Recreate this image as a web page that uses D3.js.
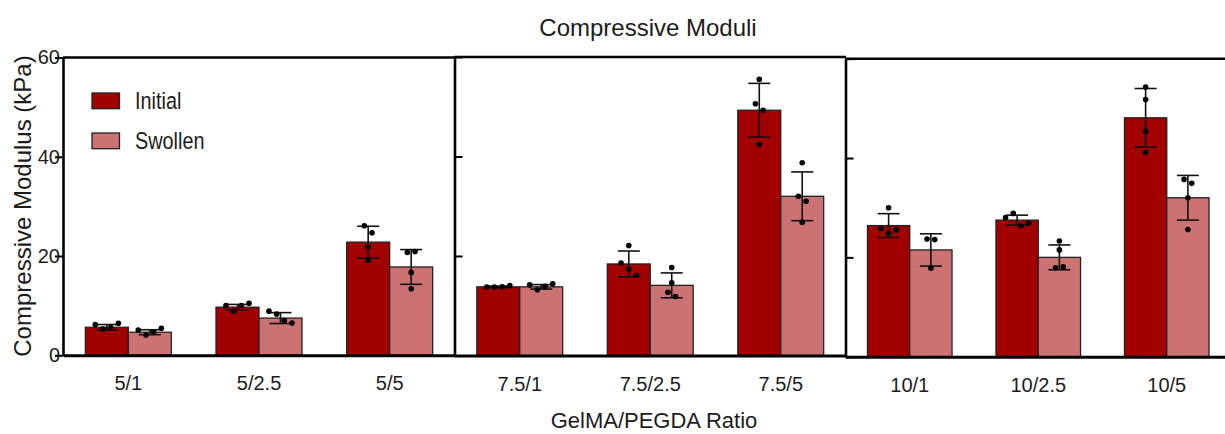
<!DOCTYPE html>
<html>
<head>
<meta charset="utf-8">
<script src="https://cdn.jsdelivr.net/npm/d3@7"></script>
<style>
    body { margin: 0; background: #fff; }
    svg text { font-family: "Liberation Sans", Arial, Helvetica, sans-serif; fill: #1c1c1c; }
</style>
</head>
<body>
<svg id="chart" width="1225" height="434"></svg>
<script>
// ---- data ----
const panels = [
    ["5/1", "5/2.5", "5/5"],
    ["7.5/1", "7.5/2.5", "7.5/5"],
    ["10/1", "10/2.5", "10/5"]
];
const series = ["Initial", "Swollen"];
const yTicks = [0, 20, 40, 60];

const initialMean = [5.65, 9.7, 22.8, 13.8, 18.4, 49.3, 26.4, 27.5, 48.1];
const initialSD   = [0.55, 0.55, 3.2, 0.15, 2.6, 5.4, 2.4, 1.0, 5.9];
const swollenMean = [4.65, 7.5, 17.8, 13.8, 14.1, 32.0, 21.5, 20.0, 32.0];
const swollenSD   = [0.5, 1.1, 3.5, 0.45, 2.5, 4.9, 3.25, 2.5, 4.5];

const initialPts = [
    [6.2, 5.3, 5.6, 6.45],
    [10.0, 8.9, 10.0, 10.5],
    [26.1, 24.7, 21.9, 19.1],
    [13.75, 13.75, 13.8, 14.05],
    [22.1, 18.6, 17.4, 16.1],
    [55.5, 50.6, 49.3, 42.4],
    [30.0, 25.8, 24.8, 25.5],
    [28.0, 28.85, 26.35, 26.85],
    [54.3, 51.8, 45.4, 41.1]
];
const swollenPts = [
    [5.1, 4.1, 4.75, 5.45],
    [8.9, 8.3, 7.0, 6.5],
    [20.7, 20.9, 16.7, 13.4],
    [14.2, 13.2, 13.9, 14.4],
    [17.7, 14.6, 12.7, 11.85],
    [38.75, 32.0, 31.0, 26.8],
    [23.7, 23.6, 17.8],
    [23.3, 21.5, 17.9, 18.1],
    [35.7, 34.9, 32.0, 25.6]
];

// ---- layout ----
const colors = { Initial: "#a20000", Swollen: "#cc7272" };
const stats = {
    Initial: { mean: initialMean, sd: initialSD, pts: initialPts },
    Swollen: { mean: swollenMean, sd: swollenSD, pts: swollenPts }
};
// the three panels were stitched together, so each has its own frame
const frames = [
    { x0: 63,    x1: 455,  top: 57.5, bottom: 355.3 },
    { x0: 454.5, x1: 846,  top: 57,   bottom: 355.5 },
    { x0: 845.5, x1: 1231, top: 58.7, bottom: 356.7 }
];

const svg = d3.select("#chart");

function narrow(sel, k) {
    sel.each(function () {
        const len = this.getComputedTextLength();
        d3.select(this).attr("textLength", len * k).attr("lengthAdjust", "spacingAndGlyphs");
    });
}

// spread points that sit at about the same height, like Prism does
function swarm(vals, y) {
    const order = vals.map((v, i) => i).sort((a, b) => vals[b] - vals[a]);
    const rows = [];
    let cur = [order[0]];
    for (let t = 1; t < order.length; t++) {
        if (Math.abs(y(vals[order[t]]) - y(vals[order[t - 1]])) < 7) cur.push(order[t]);
        else { rows.push(cur); cur = [order[t]]; }
    }
    rows.push(cur);
    const off = [];
    rows.forEach(r => {
        r.sort((a, b) => a - b);
        r.forEach((p, j) => { off[p] = (j - (r.length - 1) / 2) * 7.7; });
    });
    return off;
}

panels.forEach((cats, pi) => {
    const f = frames[pi];
    const y = d3.scaleLinear().domain([0, 60]).range([f.bottom, f.top]);
    const x = d3.scaleBand().domain(cats).range([f.x0, f.x1])
        .paddingInner(0.342).paddingOuter(0.171);
    const xs = d3.scaleBand().domain(series).range([0, x.bandwidth()]);

    const g = svg.append("g");

    // bars
    cats.forEach((c, j) => {
        const k = pi * 3 + j;
        series.forEach(s => {
            const st = stats[s];
            const bx = x(c) + xs(s);
            const cx = bx + xs.bandwidth() / 2;
            g.append("rect")
                .attr("x", bx)
                .attr("y", y(st.mean[k]))
                .attr("width", xs.bandwidth())
                .attr("height", y(0) - y(st.mean[k]))
                .attr("fill", colors[s])
                .attr("stroke", "#222")
                .attr("stroke-width", 1.3);

            // error bar (mean +/- SD)
            const lo = y(st.mean[k] - st.sd[k]), hi = y(st.mean[k] + st.sd[k]);
            const eb = g.append("g").attr("stroke", "#111").attr("stroke-width", 1.6);
            eb.append("line").attr("x1", cx).attr("x2", cx).attr("y1", lo).attr("y2", hi);
            [lo, hi].forEach(v => {
                eb.append("line").attr("x1", cx - 11).attr("x2", cx + 11).attr("y1", v).attr("y2", v);
            });

            // individual samples
            const off = swarm(st.pts[k], y);
            g.selectAll(null)
                .data(st.pts[k])
                .enter().append("circle")
                .attr("cx", (d, i) => cx + off[i])
                .attr("cy", d => y(d))
                .attr("r", 2.8)
                .attr("fill", "#000");
        });
    });

    // frame: top edge
    g.append("line")
        .attr("x1", f.x0).attr("x2", f.x1)
        .attr("y1", f.top).attr("y2", f.top)
        .attr("stroke", "#000").attr("stroke-width", 2.6);

    // left axis
    const left = pi === 0
        ? d3.axisLeft(y).tickValues(yTicks).tickSize(8).tickSizeOuter(0).tickPadding(-5)
        : d3.axisLeft(y).tickValues(yTicks).tickSize(-8).tickSizeOuter(0).tickFormat("");
    const la = g.append("g").attr("transform", `translate(${f.x0},0)`).call(left);
    la.select(".domain").attr("stroke-width", 2.6);
    la.selectAll(".tick line").attr("stroke-width", 2);
    la.selectAll("text").style("font-size", "20px").attr("fill", "#1c1c1c");

    // bottom axis
    const ba = g.append("g").attr("transform", `translate(0,${f.bottom})`)
        .call(d3.axisBottom(x).tickSize(0).tickSizeOuter(0).tickPadding(21));
    ba.select(".domain").attr("stroke-width", 3);
    ba.selectAll("text").style("font-size", "20px").attr("fill", "#1c1c1c");
});

// legend
const legend = svg.append("g").attr("transform", "translate(92,93)");
series.forEach((s, i) => {
    legend.append("rect")
        .attr("x", 0).attr("y", i * 40)
        .attr("width", 27.5).attr("height", 15.7)
        .attr("fill", colors[s]).attr("stroke", "#222").attr("stroke-width", 1.3);
    legend.append("text")
        .attr("x", 43).attr("y", i * 40 + 16.3)
        .style("font-size", "24.5px")
        .text(s)
        .call(narrow, 0.81);
});

// titles
svg.append("text")
    .attr("x", 648).attr("y", 36)
    .attr("text-anchor", "middle")
    .style("font-size", "24px")
    .text("Compressive Moduli");

svg.append("text")
    .attr("x", 654).attr("y", 428)
    .attr("text-anchor", "middle")
    .style("font-size", "22px")
    .text("GelMA/PEGDA Ratio");

svg.append("text")
    .attr("transform", "translate(31,206) rotate(-90)")
    .attr("text-anchor", "middle")
    .style("font-size", "24px")
    .text("Compressive Modulus (kPa)");
</script>
</body>
</html>
